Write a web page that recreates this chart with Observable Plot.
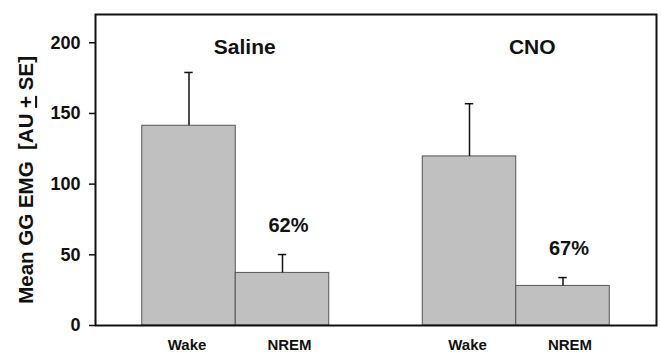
<!DOCTYPE html>
<html><head><meta charset="utf-8">
<script src="https://cdn.jsdelivr.net/npm/d3@7"></script>
<script src="https://cdn.jsdelivr.net/npm/@observablehq/plot@0.6"></script>
<style>body{margin:0;background:#fff}</style>
</head><body><div id="chart"></div>
<script>
const groups = ["Saline", "CNO"];
const states = ["Wake", "NREM"];
const means = [141.3, 37.2, 119.6, 28.0];   // Saline Wake, Saline NREM, CNO Wake, CNO NREM
const ses = [37.7, 13.0, 37.3, 5.9];
const pctLabels = ["62%", "67%"];
const yTicks = [0, 50, 100, 150, 200];
const yLabel = "Mean GG EMG\u00a0\u00a0[AU + SE]";

const data = [];
groups.forEach((g, gi) => states.forEach((s, si) => {
  const i = gi * 2 + si;
  const x1 = gi * 3 + si + 0.5;
  data.push({group: g, state: s, mean: means[i], se: ses[i], x1, x2: x1 + 1, c: x1 + 0.5});
}));
const nrem = data.filter(d => d.state === "NREM").map((d, i) => ({...d, pct: pctLabels[i]}));
const wake = data.filter(d => d.state === "Wake");
const groupTitles = groups.map((g, gi) => ({group: g, c: gi * 3 + 1.5}));

const chart = Plot.plot({
  width: 661, height: 352,
  marginLeft: 95, marginRight: 5, marginTop: 14, marginBottom: 27,
  style: {fontFamily: "'Liberation Sans', Arial, sans-serif", background: "#fff", color: "#111"},
  x: {domain: [0, 6], axis: null},
  y: {domain: [0, 220], axis: null},
  marks: [
    Plot.rectY(data, {x1: "x1", x2: "x2", y1: 0, y2: "mean", fill: "#c0c0c0", stroke: "#555", strokeWidth: 1}),
    Plot.ruleX(data, {x: "c", y1: "mean", y2: d => d.mean + d.se, stroke: "#111", strokeWidth: 1.5}),
    Plot.ruleY(data, {y: d => d.mean + d.se, x1: d => d.c - 0.045, x2: d => d.c + 0.045, stroke: "#111", strokeWidth: 1.5}),
    Plot.frame({stroke: "#111", strokeWidth: 2}),
    Plot.axisY(yTicks, {tickSize: 6, tickPadding: 9, fontSize: 18, fontWeight: "bold", label: null, tickFormat: d => d, strokeWidth: 1.5}),
    Plot.text(wake, {x: "c", y: 0, text: "state", dy: 20, dx: -2, fontSize: 15, fontWeight: "bold", lineAnchor: "middle"}),
    Plot.text(nrem, {x: "c", y: 0, text: "state", dy: 20, dx: 7, fontSize: 15, fontWeight: "bold", lineAnchor: "middle"}),
    Plot.text(groupTitles.slice(0, 1), {x: "c", y: 196.5, text: "group", dx: 9, fontSize: 21, fontWeight: "bold"}),
    Plot.text(groupTitles.slice(1), {x: "c", y: 196.5, text: "group", dx: 16, fontSize: 21, fontWeight: "bold"}),
    Plot.text(nrem, {x: "c", y: d => d.mean + d.se, text: "pct", dy: -29, dx: 6, fontSize: 20, fontWeight: "bold"}),
    Plot.text([yLabel], {x: 0, y: 103, text: d => d, dx: -69, rotate: -90, fontSize: 20.5, fontWeight: "bold"})
  ]
});
// underline the "+" so it reads as the original's plus-over-bar sign
chart.querySelectorAll("text").forEach(t => {
  if (t.textContent === yLabel) {
    const [a, b] = yLabel.split("+");
    t.textContent = "";
    const ns = "http://www.w3.org/2000/svg";
    const s1 = document.createElementNS(ns, "tspan"); s1.textContent = a;
    const s2 = document.createElementNS(ns, "tspan"); s2.textContent = "+"; s2.setAttribute("text-decoration", "underline");
    const s3 = document.createElementNS(ns, "tspan"); s3.textContent = b;
    t.append(s1, s2, s3);
  }
});
document.getElementById("chart").append(chart);
</script>
</body></html>
